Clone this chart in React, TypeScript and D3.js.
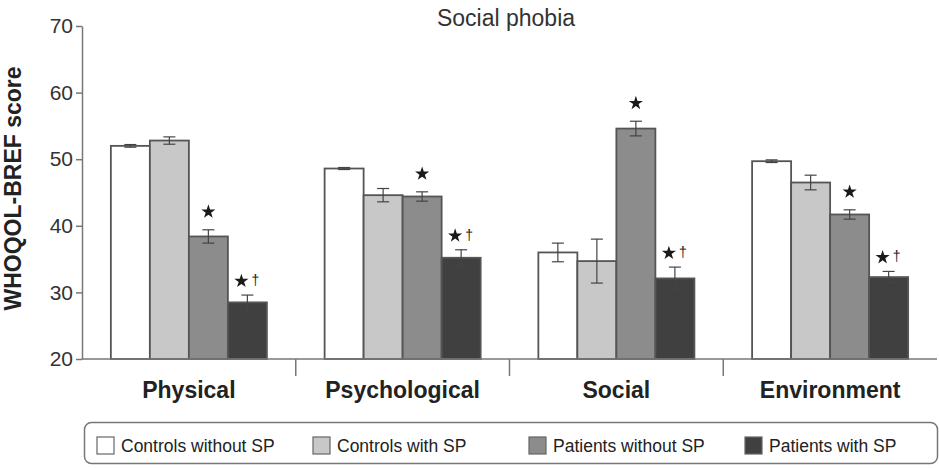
import React, { useEffect, useRef } from 'react';
import * as d3 from 'd3';

const categories = ['Physical', 'Psychological', 'Social', 'Environment'];
const seriesNames = ['Controls without SP', 'Controls with SP', 'Patients without SP', 'Patients with SP'];
const seriesColors = ['#ffffff', '#c8c8c8', '#8c8c8c', '#404040'];

// mean score per category, one array per series
const controlsWithout = [52.0, 48.6, 36.0, 49.7];
const controlsWith = [52.8, 44.6, 34.7, 46.5];
const patientsWithout = [38.4, 44.4, 54.6, 41.7];
const patientsWith = [28.5, 35.2, 32.1, 32.3];

// error half-widths
const errControlsWithout = [0.2, 0.15, 1.4, 0.2];
const errControlsWith = [0.55, 1.0, 3.3, 1.1];
const errPatientsWithout = [1.0, 0.7, 1.1, 0.7];
const errPatientsWith = [1.1, 1.2, 1.7, 0.85];

// significance marks per series
const marks = ['', '', '*', '*†'];

const yTicks = [20, 30, 40, 50, 60, 70];

const FONT = '"Liberation Sans", Arial, Helvetica, sans-serif';

function App() {
  const svgRef = useRef<SVGSVGElement>(null);

  useEffect(() => {
    document.body.style.margin = '0';
    const width = 939;
    const height = 468;
    const svg = d3.select(svgRef.current)
      .attr('width', width)
      .attr('height', height)
      .style('display', 'block')
      .style('background', '#fff')
      .style('font-family', FONT);
    svg.selectAll('*').remove();

    const means = [controlsWithout, controlsWith, patientsWithout, patientsWith];
    const errs = [errControlsWithout, errControlsWith, errPatientsWithout, errPatientsWith];

    const x0 = d3.scaleBand().domain(categories).range([82, 937]);
    const bw = x0.bandwidth();
    const x1 = d3.scaleBand().domain(seriesNames).range([bw * 0.135, bw * 0.865]);
    const y = d3.scaleLinear().domain([20, 70]).range([359, 26]);

    // title
    svg.append('text')
      .attr('x', 506)
      .attr('y', 26)
      .attr('text-anchor', 'middle')
      .attr('font-size', 23)
      .attr('fill', '#333')
      .text('Social phobia');

    // y axis
    const yAxis = svg.append('g')
      .attr('transform', 'translate(82,0)')
      .call(d3.axisLeft(y).tickValues(yTicks).tickSize(6).tickSizeOuter(0).tickPadding(3));
    yAxis.select('.domain').attr('stroke', '#777').attr('stroke-width', 1.5);
    yAxis.selectAll('.tick line').attr('stroke', '#777').attr('stroke-width', 1.5);
    yAxis.selectAll('.tick text')
      .attr('font-size', 21)
      .attr('font-family', FONT)
      .attr('fill', '#333');

    svg.append('text')
      .attr('transform', `translate(21,${(y(20) + y(70)) / 2 - 4}) rotate(-90)`)
      .attr('text-anchor', 'middle')
      .attr('font-size', 23)
      .attr('font-weight', 'bold')
      .attr('fill', '#222')
      .text('WHOQOL-BREF score');

    // bars
    const groups = svg.append('g')
      .selectAll('g')
      .data(categories)
      .enter()
      .append('g')
      .attr('transform', d => `translate(${x0(d)},0)`);

    groups.each(function (cat, ci) {
      const g = d3.select(this);
      seriesNames.forEach((s, si) => {
        const v = means[si][ci];
        const e = errs[si][ci];
        const bx = x1(s)!;
        const cx = bx + x1.bandwidth() / 2;
        g.append('rect')
          .attr('x', bx)
          .attr('y', y(v))
          .attr('width', x1.bandwidth())
          .attr('height', y(20) - y(v))
          .attr('fill', seriesColors[si])
          .attr('stroke', '#555')
          .attr('stroke-width', 1.8);
        // error bar
        const eb = g.append('g').attr('stroke', '#444').attr('stroke-width', 1.2);
        eb.append('line').attr('x1', cx).attr('x2', cx).attr('y1', y(v + e)).attr('y2', y(v - e));
        eb.append('line').attr('x1', cx - 6).attr('x2', cx + 6).attr('y1', y(v + e)).attr('y2', y(v + e));
        eb.append('line').attr('x1', cx - 6).attr('x2', cx + 6).attr('y1', y(v - e)).attr('y2', y(v - e));

        const m = marks[si];
        if (m) {
          const my = y(v + e) - (m.length > 1 ? 14 : 18);
          const sx = m.length > 1 ? cx - 6 : cx;
          g.append('path')
            .attr('d', d3.symbol().type(d3.symbolStar).size(62)())
            .attr('transform', `translate(${sx},${my})`)
            .attr('fill', '#1a1a1a');
          if (m.length > 1) {
            g.append('text')
              .attr('x', cx + 8)
              .attr('y', my + 4)
              .attr('text-anchor', 'middle')
              .attr('font-size', 14)
              .attr('fill', '#222')
              .text('†');
          }
        }
      });
    });

    // x axis line and separators
    svg.append('line')
      .attr('x1', 82).attr('x2', 937)
      .attr('y1', y(20)).attr('y2', y(20))
      .attr('stroke', '#777').attr('stroke-width', 1.5);
    svg.append('g')
      .selectAll('line')
      .data(categories.slice(1))
      .enter()
      .append('line')
      .attr('x1', d => x0(d)!).attr('x2', d => x0(d)!)
      .attr('y1', y(20)).attr('y2', y(20) + 17)
      .attr('stroke', '#777').attr('stroke-width', 1.5);

    svg.append('g')
      .selectAll('text')
      .data(categories)
      .enter()
      .append('text')
      .attr('x', d => x0(d)! + bw / 2)
      .attr('y', 398)
      .attr('text-anchor', 'middle')
      .attr('font-size', 23)
      .attr('font-weight', 'bold')
      .attr('fill', '#222')
      .text(d => d);

    // legend
    svg.append('rect')
      .attr('x', 84.5).attr('y', 422.5)
      .attr('width', 853).attr('height', 41)
      .attr('rx', 7)
      .attr('fill', '#fff')
      .attr('stroke', '#777')
      .attr('stroke-width', 1.5);

    const legend = svg.append('g')
      .selectAll('g')
      .data(seriesNames)
      .enter()
      .append('g')
      .attr('transform', (d, i) => `translate(${97 + i * 216},437)`);
    legend.append('rect')
      .attr('width', 17).attr('height', 17)
      .attr('fill', (d, i) => seriesColors[i])
      .attr('stroke', '#666')
      .attr('stroke-width', 1.2);
    legend.append('text')
      .attr('x', 24)
      .attr('y', 14.5)
      .attr('font-size', 17.5)
      .attr('fill', '#222')
      .text(d => d);
  }, []);

  return <svg ref={svgRef}></svg>;
}

export default App;
